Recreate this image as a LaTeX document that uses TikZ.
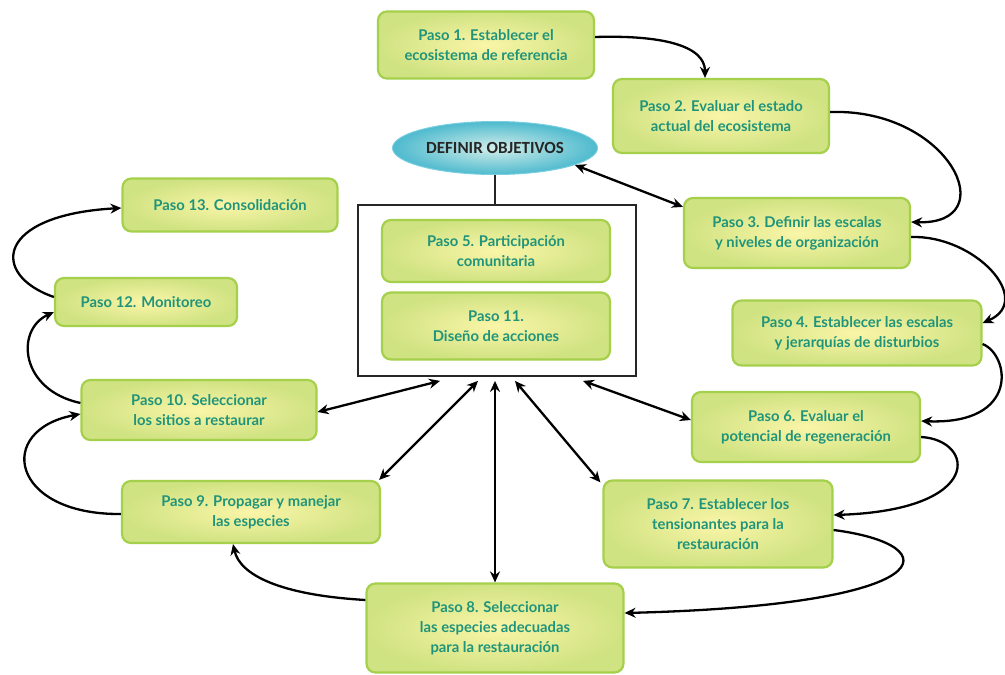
\documentclass[tikz,border=0pt]{standalone}
\usepackage{fontspec}
\setmainfont{Lato}
\newfontfamily\objfont{Carlito}
\usetikzlibrary{arrows.meta,shapes.geometric,calc}
\definecolor{txt}{RGB}{32,148,122}
\definecolor{boxin}{RGB}{250,245,168}
\definecolor{boxout}{RGB}{208,227,130}
\definecolor{boxedge}{RGB}{165,208,75}
\definecolor{ellin}{RGB}{210,238,234}
\definecolor{ellout}{RGB}{78,186,206}
\definecolor{elledge}{RGB}{120,205,225}
\begin{document}
\begin{tikzpicture}[x=1pt,y=-1pt,
  stepbox/.style={draw=boxedge, line width=2.2pt, rounded corners=9pt, shading=radial, inner color=boxin, outer color=boxout, text=txt, font=\bfseries\fontsize{14.8}{20}\selectfont, align=center, inner sep=0pt},
  objell/.style={ellipse, draw=elledge, line width=1pt, shading=radial, inner color=ellin, outer color=ellout, font=\objfont\bfseries\fontsize{17}{18}\selectfont, text=black!85, inner sep=0pt, minimum width=205pt, minimum height=53pt},
  outer/.style={draw=black!85, line width=1.8pt, fill=white, minimum width=278pt, minimum height=171pt, inner sep=0pt},
  conn/.style={line width=2.3pt, -{Stealth[length=11pt,width=10pt]}},
  dconn/.style={line width=2.3pt, {Stealth[length=11pt,width=10pt]}-{Stealth[length=11pt,width=10pt]}},
  plain/.style={line width=1.8pt, draw=black!85}]
\useasboundingbox[fill=white] (0,0) rectangle (1005,675);

% central frame
\node[outer] (big) at (497,290.5) {};
\node[stepbox, minimum width=228pt, minimum height=62pt] (p5) at (496,251) {Paso 5. Participación\\comunitaria};
\node[stepbox, minimum width=228pt, minimum height=67pt] (p11) at (496,326) {Paso 11.\\Diseño de acciones};
\node[objell] (obj) at (495,148) {DEFINIR OBJETIVOS};
\draw[plain] (obj.south) -- (obj.south |- big.north);

% steps
\node[stepbox, minimum width=216pt, minimum height=67pt] (p1) at (486,45) {Paso 1. Establecer el\\ecosistema de referencia};
\node[stepbox, minimum width=216pt, minimum height=74pt] (p2) at (721,116) {Paso 2. Evaluar el estado\\actual del ecosistema};
\node[stepbox, minimum width=226pt, minimum height=70pt] (p3) at (797,233) {Paso 3. Definir las escalas\\y niveles de organización};
\node[stepbox, minimum width=249pt, minimum height=65pt] (p4) at (857,333) {Paso 4. Establecer las escalas\\y jerarquías de disturbios};
\node[stepbox, minimum width=228pt, minimum height=70pt] (p6) at (806,427) {Paso 6. Evaluar el\\potencial de regeneración};
\node[stepbox, minimum width=229pt, minimum height=87pt] (p7) at (718,524) {Paso 7. Establecer los\\tensionantes para la\\restauración};
\node[stepbox, minimum width=257pt, minimum height=89pt] (p8) at (495,628) {Paso 8. Seleccionar\\las especies adecuadas\\para la restauración};
\node[stepbox, minimum width=258pt, minimum height=62pt] (p9) at (251,512) {Paso 9. Propagar y manejar\\las especies};
\node[stepbox, minimum width=235pt, minimum height=60pt] (p10) at (199,410) {Paso 10. Seleccionar\\los sitios a restaurar};
\node[stepbox, minimum width=182pt, minimum height=48pt] (p12) at (146,302) {Paso 12. Monitoreo};
\node[stepbox, minimum width=215pt, minimum height=53pt] (p13) at (230,205) {Paso 13. Consolidación};

% sequence connectors
\draw[conn] ([yshift=8pt]p1.east) .. controls (660,35) and (705,45) .. ([xshift=-16pt]p2.north);
\draw[conn] ([yshift=4pt]p2.east) .. controls (950,108) and (1005,225) .. ([yshift=11pt]p3.east);
\draw[conn] ([yshift=-4pt]p3.east) .. controls (975,235) and (1035,300) .. ([yshift=10pt]p4.east);
\draw[conn] ([yshift=-11pt]p4.east) .. controls (1010,355) and (1020,425) .. ([yshift=6pt]p6.east);
\draw[conn] ([yshift=-10pt]p6.east) .. controls (975,440) and (985,510) .. ([yshift=9pt]p7.east);
\draw[conn] ([yshift=-6pt]p7.east) .. controls (950,545) and (945,605) .. ([yshift=15pt]p8.east);
\draw[conn] ([yshift=28pt]p8.west) .. controls (280,595) and (240,575) .. ([xshift=-18pt]p9.south);
\draw[conn] ([yshift=-2pt]p9.west) .. controls (10,515) and (-5,430) .. ([yshift=-4pt]p10.west);
\draw[conn] ([yshift=7pt]p10.west) .. controls (20,390) and (15,330) .. ([yshift=-10pt]p12.west);
\draw[conn] ([yshift=5pt]p12.west) .. controls (-10,275) and (-5,215) .. ([yshift=-3pt]p13.west);

% objective links
\draw[dconn] (obj.-12) -- ([yshift=-10pt]p3.north west);
\draw[dconn] ([xshift=-57pt,yshift=-4pt]big.south) -- ([yshift=-2pt]p10.east);
\draw[dconn] ([xshift=-19pt,yshift=-4pt]big.south) -- ([xshift=-2pt]p9.north east);
\draw[dconn] ([xshift=-2pt,yshift=-4pt]big.south) -- (p8.north);
\draw[dconn] ([xshift=18pt,yshift=-4pt]big.south) -- ([xshift=-2pt,yshift=-3pt]p7.north west);
\draw[dconn] ([xshift=86pt,yshift=-4pt]big.south) -- ([yshift=7pt]p6.west);
\end{tikzpicture}
\end{document}
